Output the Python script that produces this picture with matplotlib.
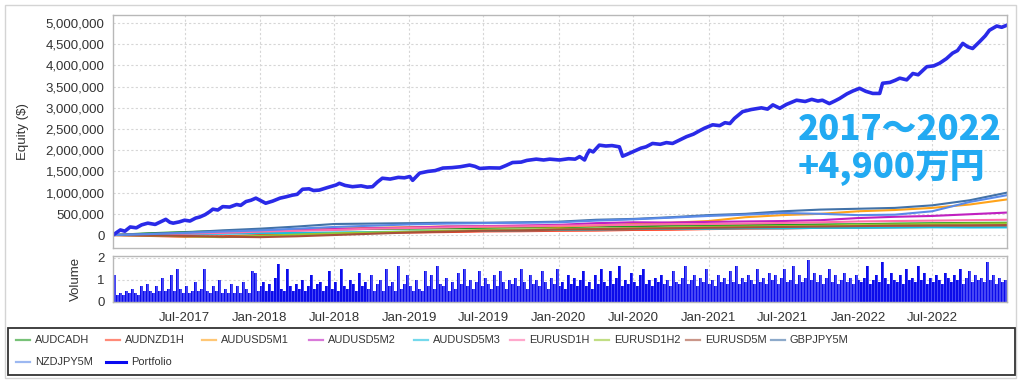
import matplotlib
matplotlib.use("Agg")
import matplotlib.pyplot as plt
import matplotlib.dates as mdates
from matplotlib.patches import Rectangle
from matplotlib.lines import Line2D
from matplotlib.ticker import FuncFormatter
import pandas as pd

# ---- data ----
portfolio_dates = [
    "2017-01-07", "2017-01-25", "2017-02-05", "2017-02-18", "2017-03-05", "2017-03-18",
    "2017-04-02", "2017-04-20", "2017-05-05", "2017-05-16", "2017-05-26", "2017-06-03",
    "2017-06-18", "2017-07-01", "2017-07-14", "2017-07-28", "2017-08-07", "2017-08-20",
    "2017-08-31", "2017-09-08", "2017-09-20", "2017-10-02", "2017-10-19", "2017-11-05",
    "2017-11-15", "2017-11-28", "2017-12-10", "2017-12-22", "2018-01-05", "2018-01-15",
    "2018-02-01", "2018-02-19", "2018-03-05", "2018-03-21", "2018-04-02", "2018-04-15",
    "2018-05-01", "2018-05-12", "2018-05-26", "2018-06-15", "2018-07-06", "2018-07-14",
    "2018-07-28", "2018-08-15", "2018-09-05", "2018-09-20", "2018-10-03", "2018-10-15",
    "2018-10-27", "2018-11-15", "2018-12-05", "2018-12-20", "2019-01-02", "2019-01-09",
    "2019-01-26", "2019-02-15", "2019-03-05", "2019-03-24", "2019-04-15", "2019-05-05",
    "2019-05-28", "2019-06-10", "2019-06-22", "2019-07-15", "2019-08-10", "2019-08-25",
    "2019-09-10", "2019-10-01", "2019-10-15", "2019-11-07", "2019-11-25", "2019-12-10",
    "2020-01-03", "2020-01-25", "2020-02-10", "2020-02-21", "2020-03-04", "2020-03-10",
    "2020-03-16", "2020-03-25", "2020-04-09", "2020-04-25", "2020-05-10", "2020-05-28",
    "2020-06-05", "2020-06-15", "2020-06-29", "2020-07-20", "2020-08-01", "2020-08-17",
    "2020-09-05", "2020-09-20", "2020-10-05", "2020-10-20", "2020-11-08", "2020-11-25",
    "2020-12-10", "2020-12-22", "2021-01-11", "2021-01-28", "2021-02-10", "2021-02-22",
    "2021-03-05", "2021-03-25", "2021-04-15", "2021-05-10", "2021-05-25", "2021-06-07",
    "2021-06-24", "2021-07-10", "2021-08-04", "2021-08-25", "2021-09-10", "2021-09-25",
    "2021-10-06", "2021-10-23", "2021-11-05", "2021-11-17", "2021-12-05", "2021-12-20",
    "2022-01-05", "2022-01-20", "2022-02-06", "2022-02-23", "2022-03-02", "2022-03-20",
    "2022-04-02", "2022-04-13", "2022-04-30", "2022-05-15", "2022-05-28", "2022-06-18",
    "2022-07-05", "2022-07-19", "2022-08-05", "2022-08-20", "2022-09-01", "2022-09-14",
    "2022-09-26", "2022-10-08", "2022-10-25", "2022-11-08", "2022-11-18", "2022-12-06",
    "2022-12-18", "2022-12-31",
]
portfolio_equity = [
    0, 120000, 90000, 190000, 170000, 240000,
    280000, 250000, 320000, 370000, 300000, 280000,
    310000, 350000, 330000, 400000, 425000, 480000,
    550000, 610000, 590000, 670000, 660000, 720000,
    700000, 790000, 820000, 870000, 800000, 750000,
    800000, 870000, 900000, 940000, 960000, 1080000,
    1090000, 1050000, 1060000, 1120000, 1180000, 1220000,
    1170000, 1140000, 1160000, 1130000, 1140000, 1250000,
    1340000, 1320000, 1360000, 1350000, 1380000, 1290000,
    1460000, 1500000, 1520000, 1580000, 1590000, 1610000,
    1650000, 1620000, 1570000, 1585000, 1580000, 1640000,
    1710000, 1720000, 1760000, 1790000, 1770000, 1790000,
    1770000, 1800000, 1790000, 1850000, 1770000, 1900000,
    2000000, 1960000, 2120000, 2100000, 2110000, 2080000,
    1860000, 1900000, 1960000, 2050000, 2080000, 2160000,
    2140000, 2180000, 2160000, 2230000, 2320000, 2380000,
    2460000, 2520000, 2600000, 2580000, 2650000, 2630000,
    2750000, 2910000, 2960000, 3000000, 2970000, 3070000,
    2990000, 3080000, 3180000, 3150000, 3200000, 3160000,
    3180000, 3100000, 3160000, 3220000, 3330000, 3400000,
    3460000, 3390000, 3340000, 3340000, 3580000, 3600000,
    3650000, 3700000, 3660000, 3810000, 3780000, 3970000,
    3990000, 4050000, 4160000, 4290000, 4350000, 4520000,
    4440000, 4400000, 4560000, 4700000, 4830000, 4930000,
    4900000, 4950000,
]

# strategy equity, quarterly (k$)
quarter_dates = [
    "2017-01-07", "2017-04-01", "2017-07-01", "2017-10-01", "2018-01-01", "2018-04-01",
    "2018-07-01", "2018-10-01", "2019-01-01", "2019-04-01", "2019-07-01", "2019-10-01",
    "2020-01-01", "2020-04-01", "2020-07-01", "2020-10-01", "2021-01-01", "2021-04-01",
    "2021-07-01", "2021-10-01", "2022-01-01", "2022-04-01", "2022-07-01", "2022-10-01",
    "2022-12-31",
]
audcadh = [0, 40, 70, 95, 110, 125, 130, 145, 150, 160, 170, 180, 185, 200, 205, 220, 230, 235, 240, 250, 255, 270, 278, 285, 290]
audnzd1h = [0, -20, -40, -30, 0, 20, 35, 50, 60, 70, 85, 90, 100, 105, 120, 125, 140, 150, 155, 170, 175, 185, 190, 195, 200]
audusd5m1 = [0, 20, 40, 60, 90, 120, 150, 170, 185, 200, 195, 210, 200, 225, 260, 290, 330, 420, 470, 500, 560, 590, 640, 720, 840]
audusd5m2 = [0, 10, 30, 60, 80, 110, 140, 160, 175, 200, 210, 225, 240, 280, 300, 295, 310, 320, 330, 350, 400, 430, 450, 490, 530]
audusd5m3 = [0, 10, 20, 30, 45, 50, 60, 70, 80, 95, 100, 110, 120, 130, 140, 150, 148, 160, 158, 170, 170, 175, 182, 178, 180]
eurusd1h = [0, 10, 30, 50, 80, 100, 120, 150, 165, 180, 200, 205, 220, 230, 240, 255, 260, 270, 285, 300, 320, 330, 340, 350, 360]
eurusd1h2 = [0, -10, -30, -50, -20, 10, 40, 60, 80, 100, 120, 130, 140, 150, 160, 180, 190, 200, 210, 220, 240, 250, 260, 270, 275]
eurusd5m = [0, -10, -20, -40, -50, -30, 0, 30, 60, 80, 100, 110, 130, 140, 150, 160, 170, 180, 190, 200, 210, 220, 225, 230, 235]
gbpjpy5m = [0, 30, 60, 110, 150, 200, 260, 270, 280, 290, 290, 300, 315, 360, 380, 420, 470, 500, 560, 600, 620, 640, 700, 820, 1000]
nzdjpy5m = [0, 20, 50, 80, 110, 150, 190, 220, 250, 270, 280, 290, 300, 340, 370, 410, 450, 480, 520, 500, 470, 480, 560, 780, 940]

strategy_names = ["AUDCADH", "AUDNZD1H", "AUDUSD5M1", "AUDUSD5M2", "AUDUSD5M3",
                  "EURUSD1H", "EURUSD1H2", "EURUSD5M", "GBPJPY5M", "NZDJPY5M"]
strategy_values = [audcadh, audnzd1h, audusd5m1, audusd5m2, audusd5m3,
                   eurusd1h, eurusd1h2, eurusd5m, gbpjpy5m, nzdjpy5m]
strategy_colors = ["#1e9a1e", "#ff3c1e", "#ffa31a", "#c020c0", "#18c0e0",
                   "#ff6eaa", "#98c832", "#a8503a", "#4272a8", "#5a8ae8"]

# weekly volume
volume = [
    1.2, 0.3, 0.4, 0.3, 0.5, 0.4, 0.6, 0.4, 0.3, 0.7, 0.5, 0.8, 0.5, 0.4, 0.7, 0.5, 1.1, 0.5, 0.6, 1.2,
    0.5, 1.5, 0.6, 0.4, 0.7, 0.4, 0.5, 0.9, 0.5, 0.6, 1.5, 0.5, 0.4, 0.7, 0.5, 1.0, 0.4, 0.6, 0.4, 0.8,
    0.4, 0.7, 0.4, 0.9, 0.6, 0.4, 1.4, 1.3, 0.5, 0.7,
    0.9, 0.5, 0.8, 0.5, 1.1, 1.7, 0.6, 0.5, 1.5, 0.7, 0.5, 0.8, 0.6, 1.0, 0.5, 0.7, 1.2, 0.6, 0.8, 0.9,
    0.5, 0.7, 1.4, 0.6, 0.9, 0.5, 1.5, 0.7, 0.6, 1.0, 0.8, 0.5, 1.3, 0.7, 0.9, 0.6, 1.2, 0.5, 0.8, 1.0,
    0.5, 1.5, 0.7, 0.9, 0.5, 1.6, 0.6, 0.8, 1.2, 0.7,
    0.5, 1.0, 0.6, 0.5, 1.4, 0.7, 1.2, 0.6, 1.6, 0.8, 0.7, 1.1, 0.5, 0.9, 0.6, 1.3, 0.8, 1.5, 0.7, 1.0,
    0.6, 0.9, 1.4, 0.7, 1.1, 0.8, 0.6, 1.2, 0.7, 1.4, 0.9, 0.6, 1.0, 0.8, 1.1, 0.7, 1.5, 0.9, 0.6, 1.2,
    0.8, 1.0, 0.7, 1.4, 0.9, 0.6, 1.1, 0.8, 1.5, 0.7,
    0.9, 0.6, 1.2, 0.8, 1.1, 0.7, 1.0, 1.4, 0.7, 0.9, 0.6, 1.2, 0.8, 1.5, 0.9, 0.7, 1.4, 0.8, 1.1, 1.6,
    0.7, 1.0, 0.8, 1.3, 0.9, 0.7, 1.2, 1.5, 0.8, 1.0, 0.7, 1.1, 0.9, 1.2, 0.8, 1.0, 0.7, 1.4, 0.9, 0.8,
    1.1, 1.6, 0.8, 1.0, 1.2, 0.7, 1.1, 0.9, 1.5, 0.8,
    1.0, 0.7, 1.2, 0.9, 1.1, 0.8, 1.4, 0.9, 1.6, 0.8, 1.1, 0.9, 1.2, 1.0, 0.8, 1.5, 0.9, 1.1, 0.8, 1.3,
    1.0, 1.2, 0.8, 1.1, 1.5, 0.9, 1.0, 1.6, 0.8, 1.2, 0.9, 1.1, 1.9, 1.0, 1.3, 0.9, 1.2, 0.8, 1.1, 1.5,
    0.9, 1.2, 0.8, 1.0, 1.3, 0.9, 1.1, 0.8, 1.2, 1.0,
    0.9, 1.1, 1.6, 0.8, 1.0, 1.2, 0.9, 1.8, 1.1, 0.8, 1.3, 1.0, 0.9, 1.2, 0.8, 1.5, 1.0, 1.1, 0.9, 1.6,
    1.0, 1.3, 0.8, 1.1, 0.9, 1.2, 1.0, 0.8, 1.3, 1.1, 0.9, 1.2, 1.0, 1.5, 0.8, 1.1, 1.4, 0.9, 1.2, 1.0,
    1.1, 0.9, 1.8, 1.0, 1.2, 0.8, 1.1, 0.9, 1.0, 1.4,
]

tick_dates = ["2017-07-01", "2018-01-01", "2018-07-01", "2019-01-01", "2019-07-01", "2020-01-01",
              "2020-07-01", "2021-01-01", "2021-07-01", "2022-01-01", "2022-07-01"]

# ---- figure ----
plt.rcParams["font.family"] = ["Liberation Sans", "DejaVu Sans"]
fig = plt.figure(figsize=(10.24, 3.85), dpi=100)
fig.patch.set_facecolor("white")
W, H = 1024.0, 385.0

fig.patches.append(Rectangle((5 / W, 1 - 378 / H), 1011 / W, 373 / H,
                             transform=fig.transFigure, fill=False, ec="#d4d4d4", lw=1.0))

ax = fig.add_axes([113 / W, 1 - 248 / H, 894 / W, 233 / H])
axv = fig.add_axes([113 / W, 1 - 302 / H, 894 / W, 46 / H], sharex=ax)

x0 = pd.Timestamp("2017-01-07")
x1 = pd.Timestamp("2022-12-31")

qd = pd.to_datetime(quarter_dates)
for name, vals, col in zip(strategy_names, strategy_values, strategy_colors):
    ax.plot(qd, [v * 1000 for v in vals], color=col, lw=1.5, label=name)
ax.plot(pd.to_datetime(portfolio_dates), portfolio_equity, color="#2a2ae8", lw=2.6, label="Portfolio")

vol_dates = pd.date_range(x0, x1, periods=len(volume))
step = (x1 - x0).days / (len(volume) - 1)
axv.bar(vol_dates, volume, width=step, color="#4646f4", edgecolor="none", align="edge")
axv.bar(vol_dates, volume, width=step * 0.45, color="#0c0cea", edgecolor="none", align="edge")

for a in (ax, axv):
    a.set_xlim(x0, x1)
    a.grid(True, color="#d6d6d6", ls=(0, (2, 2)), lw=0.8)
    a.set_axisbelow(True)
    for s in a.spines.values():
        s.set_color("#b8b8b8")
        s.set_linewidth(1.0)
    a.tick_params(length=0, colors="#333333", labelsize=9.5)

ax.set_ylim(-306000, 5190000)
ax.set_yticks(range(0, 5000001, 500000))
ax.yaxis.set_major_formatter(FuncFormatter(lambda v, p: f"{v:,.0f}"))
ax.tick_params(axis="y", pad=6)
ax.tick_params(axis="x", labelbottom=False)
ax.set_ylabel("Equity ($)", fontsize=9.5, color="#333333")

axv.set_ylim(0, 2.07)
axv.set_yticks([0, 1, 2])
axv.tick_params(axis="y", pad=6)
axv.set_xticks(pd.to_datetime(tick_dates))
axv.xaxis.set_major_formatter(mdates.DateFormatter("%b-%Y"))
axv.tick_params(axis="x", pad=7)
axv.set_ylabel("Volume", fontsize=9.5, color="#333333")
ax.yaxis.set_label_coords(-0.094, 0.5)
axv.yaxis.set_label_coords(-0.035, 0.5)

# annotation
ann_kw = dict(fontsize=25, fontweight="black", color="#22aaf2",
              family=["Noto Sans CJK JP", "DejaVu Sans"], va="center", ha="left")
fig.text(798 / W, 1 - 130 / H, "2017～2022", **ann_kw)
fig.text(798 / W, 1 - 168 / H, "+4,900万円", **ann_kw)

# legend box, entries laid out left to right like the original
fig.patches.append(Rectangle((8 / W, 1 - 375 / H), 1007 / W, 47 / H,
                             transform=fig.transFigure, fill=False, ec="#333333", lw=1.3))
legend_colors = dict(zip(strategy_names, strategy_colors))
legend_colors["Portfolio"] = "#0a0af0"
legend_rows = [
    (340, [("AUDCADH", 35), ("AUDNZD1H", 125), ("AUDUSD5M1", 221), ("AUDUSD5M2", 328),
           ("AUDUSD5M3", 433), ("EURUSD1H", 529), ("EURUSD1H2", 614), ("EURUSD5M", 705),
           ("GBPJPY5M", 790)]),
    (362, [("NZDJPY5M", 35), ("Portfolio", 131)]),
]
for ypix, entries in legend_rows:
    yf = 1 - ypix / H
    for name, tx in entries:
        portfolio = name == "Portfolio"
        x_start = tx - (25 if portfolio else 19)
        fig.add_artist(Line2D([x_start / W, (tx - 5) / W], [yf, yf], transform=fig.transFigure,
                              color=legend_colors[name], lw=2.2 if portfolio else 1.6,
                              alpha=1.0 if portfolio else 0.6))
        fig.text(tx / W, yf, name, fontsize=7.9, color="#333333", va="center", ha="left")

fig.savefig("out.png", dpi=100, facecolor="white")
